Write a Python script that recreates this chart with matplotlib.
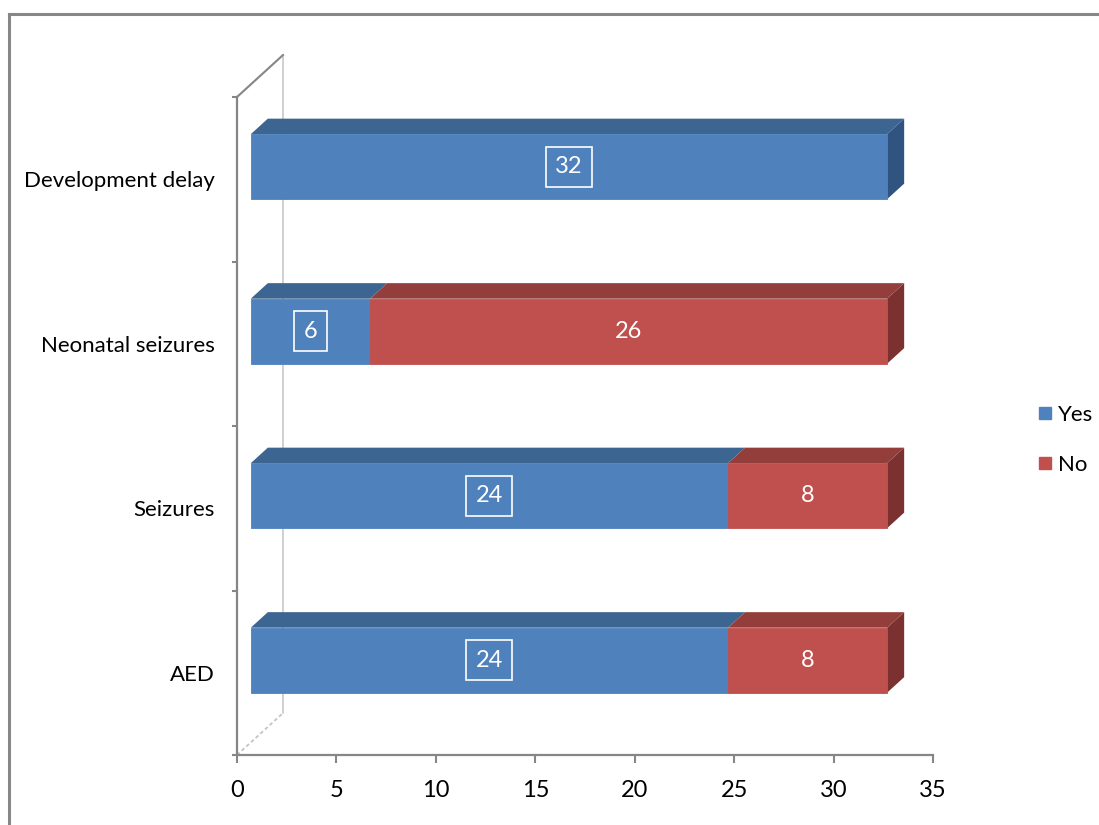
import matplotlib
matplotlib.use("Agg")
import matplotlib.pyplot as plt
from matplotlib.patches import Polygon
from matplotlib.lines import Line2D

# ---- data -------------------------------------------------------------
categories = ["AED", "Seizures", "Neonatal seizures", "Development delay"]
yes_values = [24, 24, 6, 32]
no_values = [8, 8, 26, 0]
series_names = ["Yes", "No"]
x_ticks = [0, 5, 10, 15, 20, 25, 30, 35]

# ---- style ------------------------------------------------------------
plt.rcParams["font.family"] = ["Lato", "DejaVu Sans"]
FS = 16

FRONT = {"Yes": "#4F81BD", "No": "#C0504D"}
TOP = {"Yes": "#3D6591", "No": "#943E3C"}
SIDE = {"Yes": "#30547F", "No": "#7B3130"}
AXIS_GRAY = "#868686"
WALL_GRAY = "#C4C4C4"

# oblique projection: full depth of the plot box in data units
DEPTH_X = 2.313
DEPTH_Y = 0.255
F0, F1 = 0.30, 0.67          # front / back of the bars as fraction of depth
BAR_H = 0.395

fig = plt.figure(figsize=(10.99, 8.25), dpi=100)
ax = fig.add_axes([237 / 1099, 70 / 825, 696 / 1099, 658 / 825])
ax.set_xlim(0, 35)
ax.set_ylim(-0.5, 3.5)

# chart frame
fig.add_artist(Line2D([9 / 1099, 9 / 1099], [-0.01, 1 - 14 / 825],
                      transform=fig.transFigure, color="#878787", lw=2.2))
fig.add_artist(Line2D([9 / 1099, 1.01], [1 - 14 / 825, 1 - 14 / 825],
                      transform=fig.transFigure, color="#878787", lw=2.2))

# walls of the 3-D box
ax.plot([DEPTH_X, DEPTH_X], [-0.5 + DEPTH_Y, 3.5 + DEPTH_Y], color=WALL_GRAY,
        lw=1.1, clip_on=False, zorder=0.5)
ax.plot([0, DEPTH_X], [3.5, 3.5 + DEPTH_Y], color=AXIS_GRAY, lw=1.5,
        clip_on=False, zorder=0.6)
ax.plot([0, DEPTH_X], [-0.5, -0.5 + DEPTH_Y], color=WALL_GRAY, lw=1.3,
        ls=(0, (2, 1.5)), clip_on=False, zorder=0.6)


def draw_segment(y, start, width, key, z, last):
    x0f, x1f = start + F0 * DEPTH_X, start + width + F0 * DEPTH_X
    yc = y + F0 * DEPTH_Y
    yb, yt = yc - BAR_H / 2, yc + BAR_H / 2
    dx, dy = (F1 - F0) * DEPTH_X, (F1 - F0) * DEPTH_Y
    if last:
        side = Polygon([(x1f, yb), (x1f, yt), (x1f + dx, yt + dy), (x1f + dx, yb + dy)],
                       closed=True, facecolor=SIDE[key], edgecolor="none",
                       zorder=z, clip_on=False)
        ax.add_patch(side)
    top = Polygon([(x0f, yt), (x1f, yt), (x1f + dx, yt + dy), (x0f + dx, yt + dy)],
                  closed=True, facecolor=TOP[key], edgecolor="none", zorder=z,
                  clip_on=False)
    ax.add_patch(top)
    ax.barh(yc, width, left=x0f, height=BAR_H, color=FRONT[key],
            edgecolor=FRONT[key], lw=0.6, zorder=z + 0.1, clip_on=False)
    return (x0f + x1f) / 2, yc


for i, cat in enumerate(categories):
    z = 2 + i
    segs = [("Yes", 0, yes_values[i]), ("No", yes_values[i], no_values[i])]
    segs = [s for s in segs if s[2] > 0]
    for j, (key, start, w) in enumerate(segs):
        cx, cy = draw_segment(i, start, w, key, z, j == len(segs) - 1)
        z += 0.2
        boxed = key == "Yes"
        ax.text(cx, cy, f"{w}", color="white", fontsize=FS + 1, ha="center",
                va="center", zorder=10,
                bbox=dict(boxstyle="square,pad=0.4", facecolor="none",
                          edgecolor="white", lw=1.2) if boxed else None)

# axes
for s in ["top", "right"]:
    ax.spines[s].set_visible(False)
for s in ["left", "bottom"]:
    ax.spines[s].set_color(AXIS_GRAY)
    ax.spines[s].set_linewidth(1.6)

ax.set_xticks(x_ticks)
ax.set_xticklabels([str(t) for t in x_ticks])
ax.tick_params(axis="x", direction="out", length=6, width=1.5, color=AXIS_GRAY,
               pad=12, labelsize=FS + 1, labelcolor="black")

ax.set_yticks(range(len(categories)))
ax.set_yticklabels(categories, va="center_baseline")
ax.set_yticks([c - 0.5 for c in range(len(categories) + 1)], minor=True)
ax.tick_params(axis="y", which="major", length=0, pad=16, labelsize=FS,
               labelcolor="black")
ax.tick_params(axis="y", which="minor", direction="out", length=3.6, width=1.5,
               color=AXIS_GRAY)

handles = [Line2D([], [], marker="s", ls="none", markersize=8,
                  markerfacecolor=FRONT[k], markeredgecolor=FRONT[k])
           for k in series_names]
fig.legend(handles, series_names, loc="center left",
           bbox_to_anchor=(1037 / 1099, 1 - 440 / 825), frameon=False,
           fontsize=FS, handletextpad=0.25, labelspacing=1.35, handlelength=0.7,
           borderpad=0, borderaxespad=0)

fig.savefig("out.png", dpi=100)
